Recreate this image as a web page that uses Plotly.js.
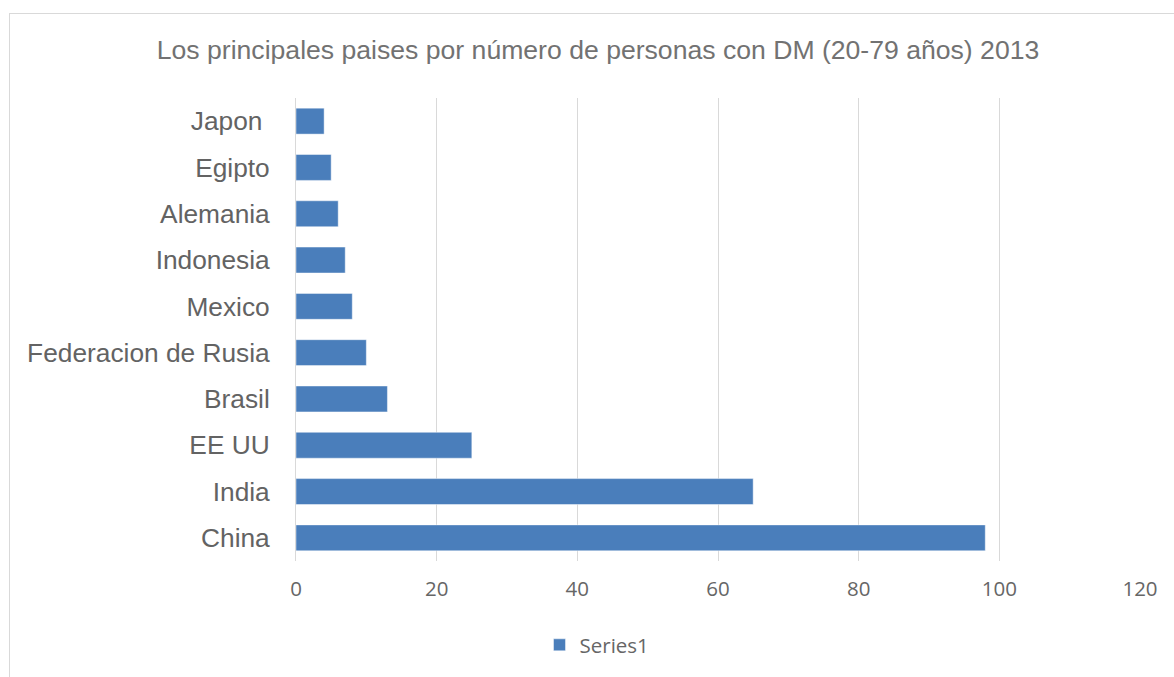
<!DOCTYPE html>
<html>
<head>
<meta charset="utf-8">
<script src="https://cdn.plot.ly/plotly-3.0.1.min.js"></script>
<style>
html,body{margin:0;padding:0;background:#ffffff;}
#wrap{position:relative;width:1174px;height:677px;overflow:hidden;}
#frame{position:absolute;left:9px;top:13px;width:1200px;height:700px;border:1px solid #d9d9d9;box-sizing:border-box;}
#chart{position:absolute;left:0;top:0;width:1174px;height:677px;}
</style>
</head>
<body>
<div id="wrap">
<div id="frame"></div>
<div id="chart"></div>
</div>
<script>
const countries = ["China", "India", "EE UU", "Brasil", "Federacion de Rusia", "Mexico", "Indonesia", "Alemania", "Egipto", "Japon\u00a0"];
const personas = [98, 65, 25, 13, 10, 8, 7, 6, 5, 4];
const xTicks = [0, 20, 40, 60, 80, 100, 120];
const seriesName = "Series1";
const chartTitle = "Los principales paises por número de personas con DM (20-79 años) 2013";

const trace = {
  type: "bar",
  orientation: "h",
  x: personas,
  y: countries,
  name: seriesName,
  marker: {color: "#4A7EBB", line: {color: "rgba(255,255,255,0.45)", width: 1}},
  hoverinfo: "x+y"
};

const layout = {
  width: 1174,
  height: 677,
  paper_bgcolor: "rgba(0,0,0,0)",
  plot_bgcolor: "rgba(0,0,0,0)",
  margin: {l: 296, r: 34, t: 98, b: 116},
  bargap: 0.44,
  title: {
    text: chartTitle,
    font: {family: "Liberation Sans, Arial, sans-serif", size: 26.6, color: "#727272"},
    x: 598 / 1174,
    xanchor: "center",
    xref: "container",
    y: 1 - 50 / 677,
    yanchor: "middle",
    yref: "container"
  },
  xaxis: {
    range: [0, 120],
    tickvals: xTicks,
    ticktext: xTicks.map(String),
    showgrid: true,
    gridcolor: "#d9d9d9",
    gridwidth: 1,
    zeroline: false,
    showline: false,
    ticks: "",
    tickfont: {family: "Open Sans, Liberation Sans, sans-serif", size: 20.5, color: "#666666"},
    ticklabelstandoff: 13,
    fixedrange: true
  },
  yaxis: {
    type: "category",
    categoryorder: "array",
    categoryarray: countries,
    showgrid: false,
    zeroline: false,
    showline: true,
    linecolor: "#d9d9d9",
    linewidth: 1,
    ticks: "",
    tickfont: {family: "Liberation Sans, Arial, sans-serif", size: 26.3, color: "#636363"},
    ticklabelstandoff: 20,
    fixedrange: true
  },
  showlegend: true,
  legend: {
    orientation: "h",
    xref: "container",
    yref: "container",
    x: 597 / 1174,
    xanchor: "center",
    y: 1 - 645 / 677,
    yanchor: "middle",
    font: {family: "Open Sans, Liberation Sans, sans-serif", size: 20.5, color: "#666666"},
    itemwidth: 30
  }
};

Plotly.newPlot("chart", [trace], layout, {displayModeBar: false, staticPlot: true});
</script>
</body>
</html>
